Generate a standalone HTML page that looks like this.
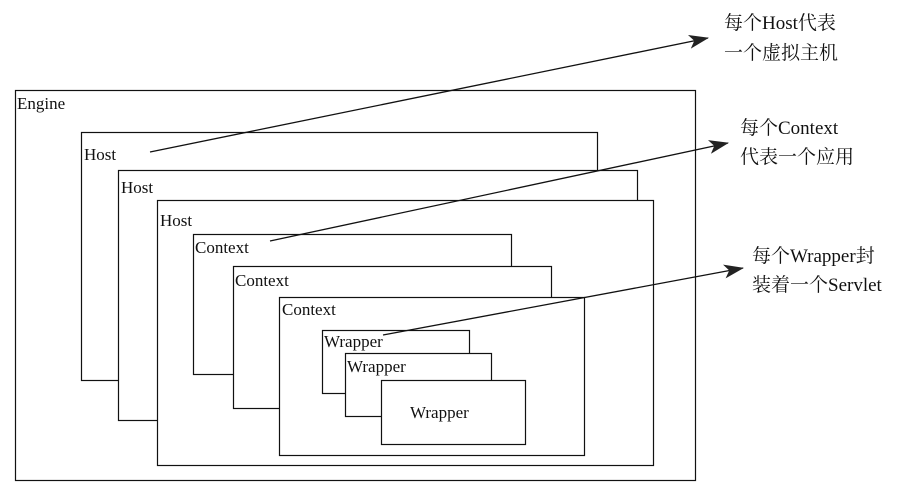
<!DOCTYPE html>
<html><head><meta charset="utf-8"><style>
html,body{margin:0;padding:0;background:#fff;}
svg{display:block}
text{font-family:"Liberation Serif","DejaVu Serif","Noto Serif CJK SC",serif;fill:#111;font-size:17px}
.n{font-size:19px}
</style></head><body>
<svg width="924" height="487" viewBox="0 0 924 487" xmlns="http://www.w3.org/2000/svg">
<defs><marker id="a" markerWidth="20" markerHeight="14" refX="19" refY="7" orient="auto" markerUnits="userSpaceOnUse"><path d="M0,0 L20,7 L0,14 L5,7 z" fill="#222"/></marker></defs>
<g fill="#fff" stroke="#111" stroke-width="1.2">
<rect x="15.5" y="90.5" width="680" height="390"/>
<rect x="81.5" y="132.5" width="516" height="248"/>
<rect x="118.5" y="170.5" width="519" height="250"/>
<rect x="157.5" y="200.5" width="496" height="265"/>
<rect x="193.5" y="234.5" width="318" height="140"/>
<rect x="233.5" y="266.5" width="318" height="142"/>
<rect x="279.5" y="297.5" width="305" height="158"/>
<rect x="322.5" y="330.5" width="147" height="63"/>
<rect x="345.5" y="353.5" width="146" height="63"/>
<rect x="381.5" y="380.5" width="144" height="64"/>
</g>
<text x="17" y="109">Engine</text>
<text x="84" y="160">Host</text>
<text x="121" y="193">Host</text>
<text x="160" y="226">Host</text>
<text x="195" y="253">Context</text>
<text x="235" y="286">Context</text>
<text x="282" y="315">Context</text>
<text x="324" y="347">Wrapper</text>
<text x="347" y="372">Wrapper</text>
<text x="410" y="418">Wrapper</text>
<g stroke="#111" stroke-width="1.3" fill="none">
<line x1="150" y1="152" x2="708" y2="38" marker-end="url(#a)"/>
<line x1="270" y1="241" x2="728" y2="143" marker-end="url(#a)"/>
<line x1="383" y1="335" x2="743" y2="268" marker-end="url(#a)"/>
</g>
<text class="n" x="724" y="29">每个Host代表</text>
<text class="n" x="724" y="59">一个虚拟主机</text>
<text class="n" x="740" y="134">每个Context</text>
<text class="n" x="740" y="163">代表一个应用</text>
<text class="n" x="752" y="262">每个Wrapper封</text>
<text class="n" x="752" y="291">装着一个Servlet</text>
</svg>
</body></html>
